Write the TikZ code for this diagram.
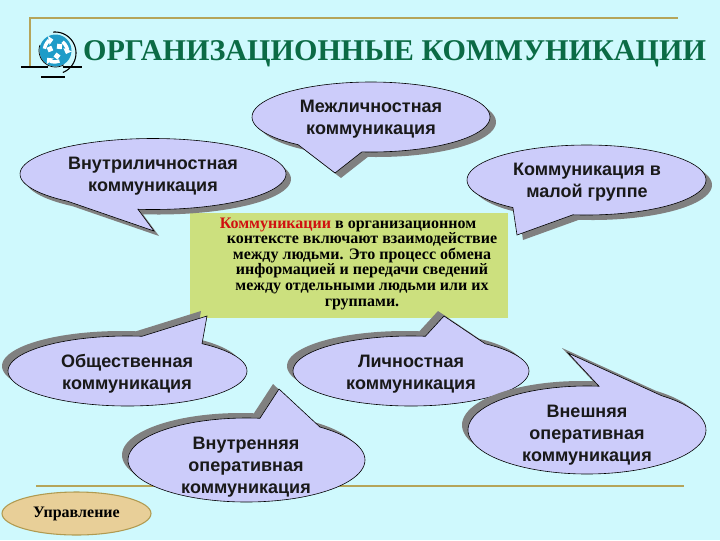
\documentclass[tikz,border=0pt]{standalone}
\usepackage{fontspec}
\setmainfont{Liberation Serif}
\newfontfamily\arialf{Liberation Sans}
\usetikzlibrary{arrows.meta}
\definecolor{bgc}{HTML}{CFF9FD}
\definecolor{linec}{HTML}{B5A55A}
\definecolor{bubc}{HTML}{CCCCFA}
\definecolor{shadc}{HTML}{808080}
\definecolor{greenbox}{HTML}{CCE07E}
\definecolor{titlec}{HTML}{0B6B45}
\definecolor{redt}{HTML}{D01010}
\definecolor{iconb}{HTML}{1F9CC8}
\definecolor{tan}{HTML}{E8CF98}
\definecolor{tanline}{HTML}{B09A50}
\tikzset{
  rule/.style={draw=linec,line width=1.5pt},
  bubtext/.style={font=\arialf\bfseries\fontsize{13.5}{16.5}\selectfont,align=center,text=black!90,inner sep=0pt},
}
\newcommand\bubblepath[8]{plot[domain=#5:#6,samples=90,smooth] ({#1+#3*cos(\x)},{#2+#4*sin(\x)}) -- (#7,#8) -- cycle}
\newcommand\bubble[9]{%
  \fill[shadc,shift={(#9)}] \bubblepath{#1}{#2}{#3}{#4}{#5}{#6}{#7}{#8};
  \filldraw[fill=bubc,draw=black,line width=0.45pt] \bubblepath{#1}{#2}{#3}{#4}{#5}{#6}{#7}{#8};
}
\begin{document}
\begin{tikzpicture}[x=0.75pt,y=-0.75pt]
\useasboundingbox (0,0) rectangle (720,540);
\fill[bgc] (0,0) rectangle (720,540);
% frame lines
\coordinate (tl) at (29.5,18);
\coordinate (tr) at (678,18);
\coordinate (bl) at (29.5,66);
\coordinate (l2) at (36,486);
\coordinate (r2) at (684,486);
\draw[rule] (bl) -- (tl) -- (tr);
\draw[rule] (l2) -- (r2);
% icon
\coordinate (ic) at (55.5,50.5);
\fill[bgc] (55,53) circle [radius=20];
\draw[black,line width=0.8pt] (21,67) -- (82,67);
\draw[black,line width=0.8pt] (41,77) -- (65,77);
\draw[black,line width=0.8pt] plot[domain=-95:68,samples=40,smooth] ({55+21*cos(\x)},{53+21*sin(\x)});
\fill[bgc] (55.5,67.5) circle [radius=7.5];
\fill[iconb] (ic) circle [radius=16];
\draw[black,line width=0.5pt] plot[domain=60:200,samples=30,smooth] ({55.5+16.5*cos(\x)},{50.5+16.5*sin(\x)});
\foreach \a in {30,150,270}{
  \begin{scope}[shift={(ic)},rotate=\a]
    \draw[white,line width=2.6pt,-{Triangle[length=3.5pt,width=6.5pt]}] (10.5,-4) arc [start angle=-21,end angle=50,radius=11];
    \fill[white] (2,-1) -- (5,-5) -- (9,-2) -- (6,2) -- cycle;
  \end{scope}
}
% title
\node (title) at (394.5,54) [font=\bfseries\fontsize{22.6}{25}\selectfont,text=titlec,inner sep=0pt] {ОРГАНИЗАЦИОННЫЕ КОММУНИКАЦИИ};
% green box
\fill[greenbox] (190,213) rectangle (508,318);
\node (mainbox) at (362,263.5) [font=\bfseries\fontsize{12}{11.7}\selectfont,align=center,inner sep=0pt,text=black]
 {\textcolor{redt}{Коммуникации} в организационном\kern21pt\\контексте включают взаимодействие\\между людьми. Это процесс обмена\\информацией и передачи сведений\\между отдельными людьми или их\\группами.};
% top bubbles
\bubble{153}{174}{133}{35.5}{130}{456.5}{154}{231}{5,5}
\node (n1) at (153,176) [bubtext] {Внутриличностная\\коммуникация};
\bubble{371}{117}{119}{35}{127.8}{454.4}{335}{173}{6,5}
\node (n2) at (371,119) [bubtext] {Межличностная\\коммуникация};
\bubble{586.5}{180}{119.5}{35}{128}{456.5}{517}{235}{6,5}
\node (n3) at (587,182) [bubtext] {Коммуникация в\\малой группе};
% lower bubbles
\bubble{127.5}{371}{119.5}{35}{-51.4}{277}{207}{316}{-6,-5}
\node (n4) at (127,374) [bubtext] {Общественная\\коммуникация};
\bubble{411}{371}{118}{35}{-51}{277}{444}{316}{-6,-5}
\node (n5) at (411,374) [bubtext] {Личностная\\коммуникация};
\bubble{246.5}{460}{118.5}{42}{-51.7}{276.5}{279}{389}{-6,-5}
\node (n6) at (246,467) [bubtext] {Внутренняя\\оперативная\\коммуникация};
\bubble{587}{430}{119}{44}{-51}{275.8}{568}{353}{-6,-5}
\node (n7) at (587,435) [bubtext] {Внешняя\\оперативная\\коммуникация};
% management button
\filldraw[fill=tan,draw=tanline,line width=0.8pt] (76.5,513.5) ellipse [x radius=74.5,y radius=21.5];
\node (n8) at (76.5,514) [font=\bfseries\fontsize{12}{14}\selectfont,inner sep=0pt,text=black] {Управление};
\end{tikzpicture}
\end{document}
